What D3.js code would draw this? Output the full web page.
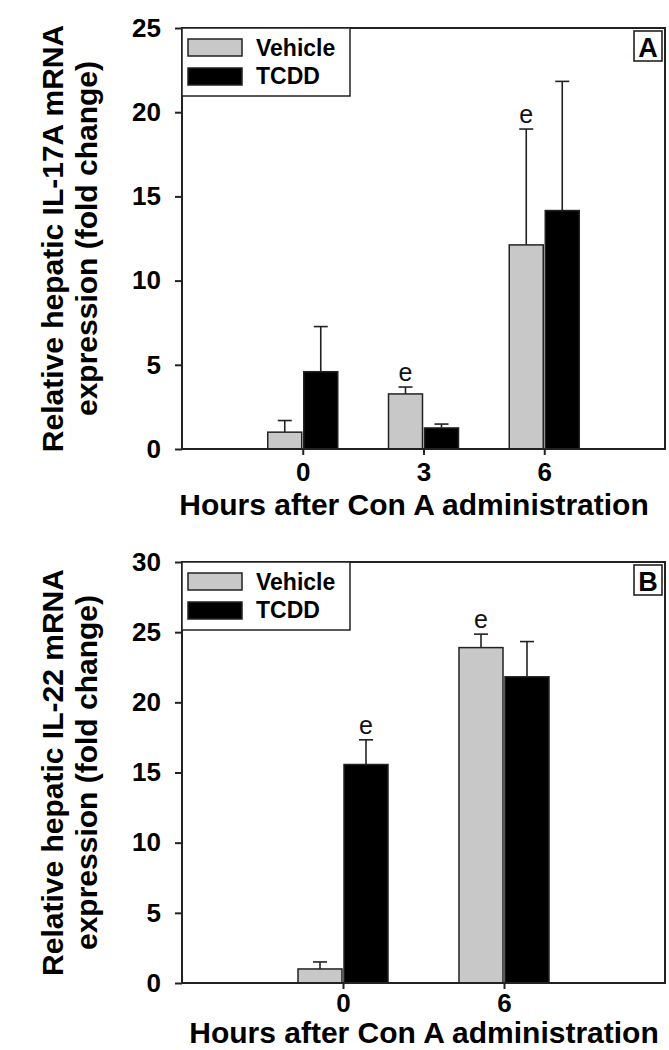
<!DOCTYPE html>
<html><head><meta charset="utf-8">
<script src="https://cdn.jsdelivr.net/npm/d3@7"></script>
<style>body{margin:0;background:#fff}svg{display:block}</style>
</head><body>
<script>
// ---- data ----
const seriesNames = ["Vehicle", "TCDD"];

const hoursA = [0, 3, 6];
const vehicleA = [1.0, 3.27, 12.12];
const vehicleErrA = [0.69, 0.41, 6.88];
const tcddA = [4.59, 1.25, 14.16];
const tcddErrA = [2.68, 0.23, 7.67];
const sigA = [[0, 0], [1, 0], [1, 0]]; // [vehicle, tcdd] "e" marks
const yTicksA = [0, 5, 10, 15, 20, 25];

const hoursB = [0, 6];
const vehicleB = [1.0, 23.9];
const vehicleErrB = [0.5, 0.96];
const tcddB = [15.57, 21.82];
const tcddErrB = [1.76, 2.51];
const sigB = [[0, 1], [1, 0]];
const yTicksB = [0, 5, 10, 15, 20, 25, 30];

const xLabel = "Hours after Con A administration";
const yLabelA = ["Relative hepatic IL-17A mRNA", "expression (fold change)"];
const yLabelB = ["Relative hepatic IL-22 mRNA", "expression (fold change)"];
const sigMark = "e";

// ---- drawing ----
const W = 669, H = 1050;
const svg = d3.select("body").append("svg").attr("width", W).attr("height", H);
const FONT = "'Liberation Sans', Arial, sans-serif";
const colors = ["#c8c8c8", "#000000"];
const lineCol = "#222";

function drawPanel(cfg) {
  const g = svg.append("g");
  const x = d3.scaleLinear().domain(cfg.xDomain).range([cfg.left, cfg.right]);
  const y = d3.scaleLinear().domain(cfg.yDomain).range([cfg.bottom, cfg.top]);
  const bw = cfg.barW;

  const rows = cfg.hours.map((h, i) => [
    {h, s: 0, v: cfg.veh[i], e: cfg.vehErr[i], sig: cfg.sig[i][0]},
    {h, s: 1, v: cfg.tcdd[i], e: cfg.tcddErr[i], sig: cfg.sig[i][1]}
  ]).flat();
  const bx = d => d.s === 0 ? x(d.h) - 1 - bw : x(d.h) + 1;

  // error bars
  g.selectAll(".err").data(rows).join("line")
    .attr("x1", d => bx(d) + bw / 2).attr("x2", d => bx(d) + bw / 2)
    .attr("y1", d => y(d.v)).attr("y2", d => y(d.v + d.e))
    .attr("stroke", lineCol).attr("stroke-width", 1.6);
  g.selectAll(".cap").data(rows).join("line")
    .attr("x1", d => bx(d) + bw / 2 - 7).attr("x2", d => bx(d) + bw / 2 + 7)
    .attr("y1", d => y(d.v + d.e)).attr("y2", d => y(d.v + d.e))
    .attr("stroke", lineCol).attr("stroke-width", 1.6);

  g.selectAll(".bar").data(rows).join("rect")
    .attr("x", bx).attr("width", bw)
    .attr("y", d => y(d.v)).attr("height", d => y(0) - y(d.v))
    .attr("fill", d => colors[d.s]).attr("stroke", lineCol).attr("stroke-width", 1.5);

  // significance marks
  g.selectAll(".sig").data(rows.filter(d => d.sig)).join("text")
    .attr("x", d => bx(d) + bw / 2).attr("y", d => y(d.v + d.e) - 6)
    .attr("text-anchor", "middle").attr("font-family", FONT).attr("font-size", 25)
    .attr("fill", "#111").text(sigMark);

  // frame
  g.append("rect").attr("x", cfg.left).attr("y", cfg.top)
    .attr("width", cfg.right - cfg.left).attr("height", cfg.bottom - cfg.top)
    .attr("fill", "none").attr("stroke", lineCol).attr("stroke-width", 2);

  // axes
  const yAxis = d3.axisLeft(y).tickValues(cfg.yTicks).tickSize(7).tickPadding(14).tickFormat(d3.format("d"));
  const ya = g.append("g").attr("transform", `translate(${cfg.left},0)`).call(yAxis);
  const xAxis = d3.axisBottom(x).tickValues(cfg.hours).tickSize(6).tickPadding(cfg.xPad).tickFormat(d3.format("d"));
  const xa = g.append("g").attr("transform", `translate(0,${cfg.bottom})`).call(xAxis);
  [ya, xa].forEach(a => {
    a.select(".domain").remove();
    a.selectAll(".tick line").attr("stroke", lineCol).attr("stroke-width", 2);
    a.selectAll(".tick text").attr("font-family", FONT).attr("font-size", 26)
      .attr("font-weight", "bold").attr("fill", "#000");
  });

  // x title
  g.append("text").attr("x", cfg.titleX).attr("y", cfg.bottom + cfg.titleDy)
    .attr("text-anchor", "middle").attr("font-family", FONT).attr("font-size", 30)
    .attr("font-weight", "bold").text(xLabel);

  // y title
  const cy = (cfg.top + cfg.bottom) / 2;
  cfg.yLabel.forEach((t, i) => {
    g.append("text").attr("transform", `translate(${[63, 97][i]},${cy}) rotate(-90)`)
      .attr("text-anchor", "middle").attr("font-family", FONT).attr("font-size", 30)
      .attr("font-weight", "bold").text(t);
  });

  // legend
  const lg = g.append("g");
  lg.append("rect").attr("x", cfg.left).attr("y", cfg.top).attr("width", 168).attr("height", 68)
    .attr("fill", "#fff").attr("stroke", lineCol).attr("stroke-width", 1.5);
  seriesNames.forEach((n, i) => {
    lg.append("rect").attr("x", cfg.left + 6).attr("y", cfg.top + 11 + i * 29)
      .attr("width", 54).attr("height", 17).attr("fill", colors[i])
      .attr("stroke", lineCol).attr("stroke-width", 1.5);
    lg.append("text").attr("x", cfg.left + 74).attr("y", cfg.top + 28 + i * 27.5)
      .attr("font-family", FONT).attr("font-size", 23).attr("font-weight", "bold").text(n);
  });

  // panel letter
  g.append("rect").attr("x", cfg.right - 31).attr("y", cfg.top + 3).attr("width", 28).attr("height", 30)
    .attr("fill", "#fff").attr("stroke", lineCol).attr("stroke-width", 1.6);
  g.append("text").attr("x", cfg.right - 17).attr("y", cfg.top + 29)
    .attr("text-anchor", "middle").attr("font-family", FONT).attr("font-size", 27)
    .attr("font-weight", "bold").text(cfg.letter);
}

drawPanel({
  hours: hoursA, veh: vehicleA, vehErr: vehicleErrA, tcdd: tcddA, tcddErr: tcddErrA, sig: sigA,
  yTicks: yTicksA, yDomain: [0, 25], xDomain: [-3, 9],
  left: 182, right: 665, top: 28, bottom: 449, barW: 34, xPad: 8,
  titleX: 414, titleDy: 66, yLabel: yLabelA, letter: "A"
});
drawPanel({
  hours: hoursB, veh: vehicleB, vehErr: vehicleErrB, tcdd: tcddB, tcddErr: tcddErrB, sig: sigB,
  yTicks: yTicksB, yDomain: [0, 30], xDomain: [-6, 12],
  left: 182, right: 665, top: 562, bottom: 983, barW: 44, xPad: 5,
  titleX: 424, titleDy: 60, yLabel: yLabelB, letter: "B"
});
</script>
</body></html>
